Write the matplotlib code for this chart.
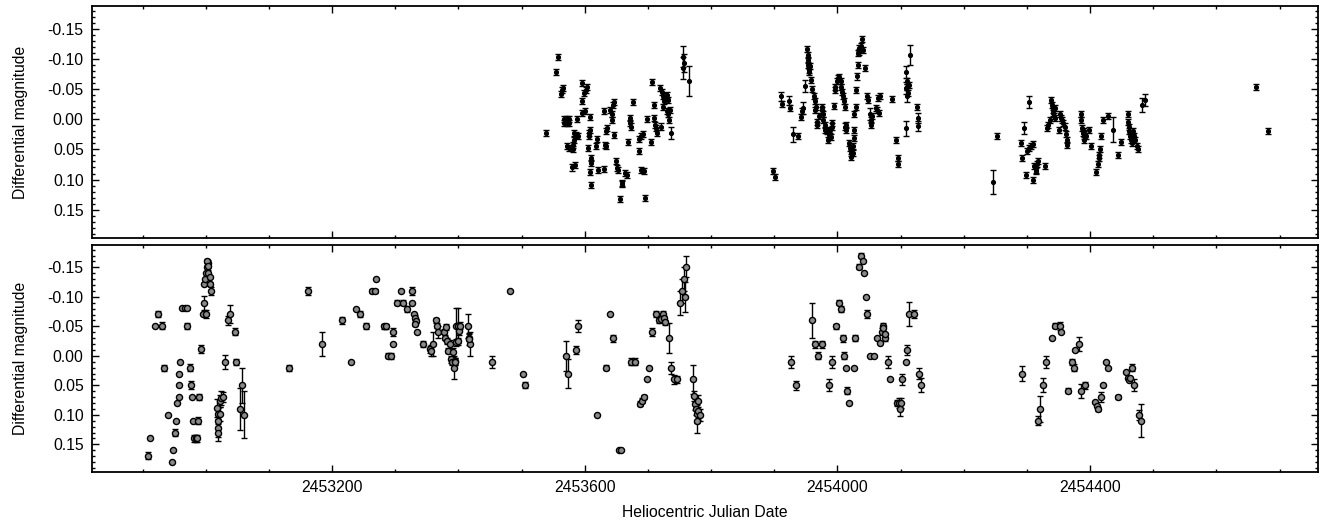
import matplotlib
matplotlib.use("Agg")
import matplotlib.pyplot as plt
from matplotlib.ticker import MultipleLocator, FormatStrFormatter

plt.rcParams["font.family"] = ["Liberation Sans", "DejaVu Sans"]

# ---- top panel: filled dots ----
top_hjd = [
    2453538.5, 2453553.8, 2453557.0, 2453562.3, 2453564.4, 2453566.0, 2453567.0, 2453567.0,
    2453571.2, 2453571.2, 2453575.0, 2453575.0, 2453571.2, 2453575.0, 2453581.8, 2453581.8,
    2453583.4, 2453583.4, 2453587.0, 2453589.7, 2453579.2, 2453584.4, 2453588.1, 2453595.0,
    2453596.0, 2453598.7, 2453601.3, 2453602.9, 2453596.0, 2453599.7, 2453605.5, 2453606.6,
    2453606.6, 2453608.2, 2453608.2, 2453609.7, 2453609.2, 2453608.2, 2453609.7, 2453619.8,
    2453617.6, 2453620.8, 2453630.3, 2453631.4, 2453633.5, 2453630.3, 2453634.5, 2453635.6,
    2453639.8, 2453643.0, 2453643.0, 2453645.0, 2453646.1, 2453646.7, 2453649.3, 2453651.4,
    2453653.0, 2453655.6, 2453659.8, 2453658.3, 2453663.5, 2453666.2, 2453669.3, 2453671.4,
    2453671.4, 2453672.5, 2453676.7, 2453686.2, 2453688.9, 2453692.5, 2453686.7, 2453689.9,
    2453693.6, 2453695.2, 2453699.4, 2453704.7, 2453706.3, 2453709.4, 2453709.4, 2453711.0,
    2453713.6, 2453715.2, 2453720.5, 2453718.9, 2453723.1, 2453724.2, 2453725.2, 2453724.2,
    2453726.8, 2453730.5, 2453732.1, 2453729.5, 2453732.1, 2453734.7, 2453733.7, 2453737.4,
    2453755.8, 2453756.9, 2453755.8, 2453764.8,
    2453898, 2453902, 2453910, 2453913, 2453924, 2453925, 2453930, 2453938, 2453943, 2453944,
    2453945, 2453948, 2453952, 2453953, 2453954, 2453954, 2453955, 2453956, 2453955, 2453959,
    2453960, 2453963, 2453964, 2453966, 2453965, 2453967, 2453968, 2453971, 2453975, 2453976,
    2453978, 2453977, 2453980, 2453981, 2453983, 2453985, 2453987, 2453988, 2453991, 2453992,
    2453990, 2453994, 2453996, 2453997, 2454000, 2454001, 2454003, 2454005, 2454006, 2454008,
    2454009, 2454011, 2454012, 2454012, 2454013, 2454014, 2454019, 2454020, 2454021, 2454022,
    2454024, 2454025, 2454026, 2454026, 2454027, 2454029, 2454030, 2454031, 2454032, 2454033,
    2454034, 2454035, 2454037, 2454039, 2454040, 2454044, 2454047, 2454049, 2454051, 2454053,
    2454054, 2454055, 2454061, 2454062, 2454065, 2454067, 2454066, 2454086, 2454093, 2454096,
    2454096, 2454108, 2454109, 2454110, 2454109, 2454112, 2454111, 2454110, 2454113, 2454115,
    2454126, 2454128, 2454128,
    2454247, 2454253, 2454291, 2454293, 2454295, 2454299, 2454301, 2454303, 2454306, 2454309,
    2454304, 2454310, 2454312, 2454314, 2454316, 2454315, 2454318, 2454329, 2454332, 2454334,
    2454337, 2454339, 2454340, 2454341, 2454342, 2454344, 2454343, 2454345, 2454351, 2454353,
    2454354, 2454356, 2454358, 2454361, 2454362, 2454363, 2454364, 2454386, 2454386, 2454388,
    2454389, 2454390, 2454391, 2454393, 2454390, 2454399, 2454401, 2454409, 2454412, 2454414,
    2454415, 2454416, 2454418, 2454421, 2454428, 2454437, 2454445, 2454449, 2454460, 2454460,
    2454461, 2454462, 2454464, 2454465, 2454467, 2454468, 2454470, 2454472, 2454474, 2454476,
    2454483, 2454487,
    2454662, 2454681,
]
top_mag = [
    0.022, -0.078, -0.103, -0.042, -0.048, -0.052, 0.000, 0.006,
    0.000, 0.006, 0.000, 0.006, 0.045, 0.048, 0.050, 0.042,
    0.034, 0.022, 0.026, 0.028, 0.080, 0.076, 0.000, -0.061,
    -0.031, -0.043, -0.048, -0.053, -0.011, -0.014, 0.048, 0.028,
    0.023, 0.017, -0.004, 0.064, 0.073, 0.088, 0.109, 0.033,
    0.044, 0.084, -0.014, 0.042, 0.044, 0.082, 0.020, 0.015,
    -0.016, -0.008, 0.001, -0.024, -0.028, 0.026, 0.069, 0.081,
    0.084, 0.133, 0.106, 0.108, 0.089, 0.092, 0.038, -0.002,
    0.006, 0.012, -0.029, 0.033, 0.027, 0.024, 0.053, 0.084,
    0.086, 0.130, -0.001, 0.038, -0.062, -0.002, -0.023, 0.009,
    0.015, 0.023, 0.012, -0.052, -0.046, -0.038, -0.030, -0.021,
    -0.035, -0.041, -0.032, -0.013, -0.008, -0.016, 0.001, 0.022,
    -0.104, -0.093, -0.085, -0.063,
    0.086, 0.095, -0.038, -0.026, -0.031, -0.019, 0.025, 0.028, -0.004, -0.013,
    -0.019, -0.056, -0.116, -0.107, -0.099, -0.090, -0.082, -0.088, -0.079, -0.065,
    -0.050, -0.038, -0.030, -0.021, -0.016, 0.004, 0.009, -0.005, -0.021, -0.016,
    -0.008, 0.001, 0.009, 0.017, 0.020, 0.034, 0.026, 0.017, 0.012, 0.006,
    0.030, -0.022, -0.049, -0.053, -0.063, -0.068, -0.070, -0.063, -0.054, -0.046,
    -0.038, -0.030, -0.020, 0.012, 0.017, 0.009, 0.040, 0.048, 0.056, 0.062,
    0.056, 0.045, 0.031, 0.017, -0.008, -0.021, -0.049, -0.071, -0.090, -0.110,
    -0.118, -0.112, -0.121, -0.134, -0.115, -0.085, -0.038, -0.032, -0.008, 0.001,
    0.009, -0.005, -0.019, -0.016, -0.035, -0.038, -0.010, -0.033, 0.034, 0.064,
    0.075, 0.015, -0.079, -0.063, -0.052, -0.043, -0.038, -0.054, -0.057, -0.107,
    -0.021, -0.002, 0.011,
    0.104, 0.028, 0.039, 0.064, 0.015, 0.092, 0.053, 0.048, 0.045, 0.041,
    -0.028, 0.101, 0.078, 0.084, 0.075, 0.086, 0.070, 0.077, 0.015, 0.009,
    0.001, -0.032, -0.024, -0.016, -0.010, -0.018, -0.005, -0.002, 0.017, -0.008,
    -0.002, 0.001, 0.006, 0.012, 0.024, 0.034, 0.042, -0.008, 0.001, 0.015,
    0.023, 0.028, 0.020, 0.028, 0.034, 0.018, 0.044, 0.088, 0.074, 0.064,
    0.059, 0.050, 0.027, 0.002, -0.005, 0.017, 0.059, 0.037, -0.008, 0.004,
    0.013, 0.020, 0.028, 0.034, 0.039, 0.020, 0.028, 0.034, 0.044, 0.050,
    -0.024, -0.032,
    -0.053, 0.019,
]
# most top-panel error bars are about +-0.005; the larger ones are listed by date
top_err_large = {
    2453737.4: 0.010, 2453755.8: 0.018, 2453756.9: 0.015, 2453764.8: 0.025,
    2453910: 0.008, 2453924: 0.008, 2453930: 0.012, 2453945: 0.010, 2453948: 0.010,
    2454051: 0.010, 2454108: 0.012, 2454109: 0.010, 2454111: 0.010, 2454115: 0.017,
    2454128: 0.008, 2454247: 0.020, 2454295: 0.010, 2454304: 0.010, 2454437: 0.020,
    2454483: 0.012, 2454487: 0.010,
}
top_err = [top_err_large.get(t, 0.005) for t in top_hjd]

# ---- bottom panel: grey circles ----
bot_hjd = [
    2452908, 2452911, 2452920, 2452925, 2452930, 2452934, 2452940, 2452946, 2452948, 2452952,
    2452953, 2452955, 2452957, 2452957, 2452958, 2452959, 2452963, 2452967, 2452970, 2452971,
    2452975, 2452977, 2452978, 2452980, 2452981, 2452984, 2452986, 2452988, 2452989, 2452993,
    2452996, 2452997, 2452998, 2452999, 2453001, 2453002, 2453003, 2453002, 2453004, 2453004,
    2453006, 2453007, 2453008, 2453000, 2453018, 2453019, 2453019, 2453020, 2453020, 2453023,
    2453022, 2453024, 2453027, 2453031, 2453035, 2453039, 2453047, 2453048, 2453055, 2453057,
    2453060,
    2453132.5, 2453161.5, 2453184, 2453216, 2453229.5, 2453237.5, 2453245, 2453254, 2453264, 2453268,
    2453269, 2453282, 2453285, 2453288, 2453294, 2453297, 2453296.5, 2453303, 2453312, 2453318,
    2453326, 2453309, 2453327, 2453330, 2453331, 2453333, 2453332, 2453334, 2453343.5, 2453355,
    2453357, 2453360, 2453365, 2453366, 2453368, 2453378, 2453380, 2453379, 2453382.5, 2453386,
    2453384, 2453388, 2453390, 2453392, 2453394, 2453393, 2453395, 2453396, 2453397, 2453400,
    2453401.5, 2453400, 2453402.5, 2453416, 2453417, 2453418, 2453417, 2453454, 2453481,
    2453503, 2453506, 2453571, 2453574, 2453585.5, 2453589, 2453619, 2453633.5, 2453640, 2453645,
    2453654, 2453657, 2453674, 2453679, 2453688, 2453691, 2453694, 2453698, 2453701.5, 2453707,
    2453713, 2453718, 2453721, 2453724, 2453725, 2453727, 2453733, 2453737, 2453741, 2453746,
    2453751, 2453754, 2453757, 2453760, 2453758.5, 2453771, 2453773, 2453774, 2453776, 2453777,
    2453778, 2453780, 2453782, 2453780,
    2453926, 2453935, 2453960, 2453965, 2453975, 2453969, 2453987, 2453992, 2453998, 2454003,
    2454006, 2454009, 2454011, 2454013, 2454016, 2454018, 2454026, 2454028, 2454034, 2454037,
    2454040, 2454042, 2454045, 2454047, 2454052, 2454058, 2454063, 2454067, 2454071, 2454072,
    2454073, 2454076, 2454075, 2454080, 2454084, 2454094, 2454098, 2454101, 2454099, 2454103,
    2454108, 2454111, 2454114, 2454122, 2454129, 2454132,
    2454292, 2454317.5, 2454321, 2454325, 2454331, 2454340, 2454345, 2454352, 2454354, 2454365,
    2454371, 2454374, 2454376.5, 2454382, 2454386, 2454392, 2454408, 2454411, 2454413, 2454418,
    2454421, 2454426, 2454429, 2454444, 2454457, 2454460, 2454461, 2454464, 2454466, 2454470,
    2454477, 2454481,
]
bot_mag = [
    0.169, 0.140, -0.051, -0.071, -0.051, 0.020, 0.100, 0.180, 0.160, 0.130,
    0.110, 0.080, 0.070, 0.050, 0.030, 0.010, -0.081, -0.081, -0.081, -0.051,
    0.020, 0.050, 0.070, 0.110, 0.140, 0.140, 0.140, 0.110, 0.070, -0.011,
    -0.071, -0.090, -0.122, -0.130, -0.141, -0.150, -0.158, -0.161, -0.153, -0.141,
    -0.133, -0.122, -0.110, -0.071, 0.088, 0.099, 0.110, 0.122, 0.130, 0.099,
    0.076, 0.071, 0.070, 0.010, -0.060, -0.071, -0.041, 0.010, 0.090, 0.050,
    0.100,
    0.020, -0.110, -0.020, -0.060, 0.010, -0.080, -0.071, -0.050, -0.110, -0.110,
    -0.130, -0.050, -0.050, 0.000, 0.000, -0.041, -0.020, -0.090, -0.090, -0.080,
    -0.090, -0.110, -0.110, -0.071, -0.065, -0.059, -0.054, -0.040, -0.020, -0.011,
    -0.009, -0.020, -0.060, -0.051, -0.041, -0.041, -0.049, -0.031, -0.025, -0.020,
    -0.009, 0.006, 0.010, -0.006, 0.009, 0.020, 0.010, -0.051, -0.023, -0.051,
    -0.042, -0.025, -0.051, -0.051, -0.031, -0.020, -0.028, 0.010, -0.110,
    0.030, 0.050, 0.000, 0.030, -0.010, -0.051, 0.100, 0.020, -0.071, -0.030,
    0.160, 0.160, 0.010, 0.010, 0.081, 0.076, 0.070, 0.040, 0.020, -0.041,
    -0.071, -0.060, -0.063, -0.071, -0.064, -0.057, -0.030, 0.020, 0.040, 0.040,
    -0.090, -0.110, -0.130, -0.151, -0.100, 0.040, 0.068, 0.082, 0.090, 0.099,
    0.110, 0.093, 0.100, 0.076,
    0.010, 0.050, -0.060, -0.020, -0.020, 0.000, 0.050, 0.010, -0.050, -0.090,
    -0.080, -0.030, 0.000, 0.020, 0.059, 0.080, 0.020, -0.030, -0.151, -0.170,
    -0.160, -0.140, -0.100, -0.071, 0.000, 0.000, -0.030, -0.021, -0.041, -0.051,
    -0.047, -0.030, -0.037, 0.010, 0.040, 0.080, 0.080, 0.080, 0.090, 0.040,
    0.010, -0.010, -0.071, -0.071, 0.030, 0.050,
    0.030, 0.110, 0.090, 0.050, 0.010, -0.030, -0.051, -0.051, -0.040, 0.059,
    0.010, 0.020, -0.010, -0.020, 0.059, 0.050, 0.079, 0.085, 0.090, 0.070,
    0.050, 0.010, 0.020, 0.070, 0.028, 0.037, 0.041, 0.037, 0.020, 0.050,
    0.100, 0.110,
]
bot_err = [
    0.006, 0.000, 0.000, 0.005, 0.006, 0.005, 0.000, 0.000, 0.000, 0.006,
    0.000, 0.000, 0.000, 0.000, 0.000, 0.000, 0.000, 0.000, 0.000, 0.005,
    0.006, 0.007, 0.000, 0.000, 0.006, 0.006, 0.006, 0.006, 0.005, 0.007,
    0.000, 0.012, 0.000, 0.000, 0.000, 0.000, 0.004, 0.004, 0.004, 0.004,
    0.000, 0.004, 0.006, 0.007, 0.015, 0.010, 0.010, 0.015, 0.015, 0.012,
    0.010, 0.012, 0.008, 0.012, 0.008, 0.015, 0.006, 0.005, 0.035, 0.030,
    0.040,
    0.005, 0.007, 0.020, 0.006, 0.000, 0.000, 0.005, 0.005, 0.004, 0.004,
    0.000, 0.004, 0.004, 0.004, 0.005, 0.007, 0.000, 0.004, 0.004, 0.005,
    0.000, 0.000, 0.006, 0.000, 0.005, 0.004, 0.004, 0.000, 0.005, 0.006,
    0.010, 0.020, 0.005, 0.004, 0.010, 0.004, 0.005, 0.004, 0.005, 0.007,
    0.005, 0.006, 0.006, 0.008, 0.006, 0.020, 0.006, 0.030, 0.006, 0.030,
    0.006, 0.006, 0.006, 0.020, 0.006, 0.020, 0.010, 0.010, 0.000,
    0.000, 0.005, 0.025, 0.025, 0.007, 0.010, 0.000, 0.004, 0.000, 0.006,
    0.000, 0.000, 0.006, 0.006, 0.004, 0.004, 0.004, 0.000, 0.000, 0.007,
    0.005, 0.004, 0.004, 0.005, 0.004, 0.004, 0.025, 0.010, 0.008, 0.006,
    0.020, 0.020, 0.020, 0.018, 0.025, 0.025, 0.008, 0.010, 0.010, 0.015,
    0.020, 0.015, 0.010, 0.010,
    0.010, 0.008, 0.030, 0.006, 0.006, 0.006, 0.010, 0.010, 0.004, 0.004,
    0.005, 0.006, 0.006, 0.000, 0.006, 0.000, 0.000, 0.005, 0.004, 0.004,
    0.000, 0.000, 0.000, 0.006, 0.000, 0.000, 0.000, 0.000, 0.006, 0.005,
    0.000, 0.005, 0.000, 0.010, 0.000, 0.005, 0.008, 0.008, 0.012, 0.010,
    0.000, 0.008, 0.020, 0.006, 0.010, 0.012,
    0.012, 0.008, 0.022, 0.012, 0.010, 0.000, 0.004, 0.007, 0.000, 0.004,
    0.005, 0.006, 0.000, 0.012, 0.012, 0.006, 0.000, 0.000, 0.004, 0.008,
    0.000, 0.000, 0.000, 0.004, 0.000, 0.000, 0.000, 0.000, 0.006, 0.010,
    0.008, 0.028,
]

x_range = (2452820, 2454761)
y_range = (0.197, -0.188)
FS = 11.3


def style_axis(ax, show_xlabels):
    ax.set_xlim(*x_range)
    ax.set_ylim(*y_range)
    ax.xaxis.set_major_locator(MultipleLocator(400))
    ax.xaxis.set_minor_locator(MultipleLocator(100))
    ax.xaxis.set_major_formatter(FormatStrFormatter("%d"))
    ax.yaxis.set_major_locator(MultipleLocator(0.05))
    ax.yaxis.set_minor_locator(MultipleLocator(0.01))
    ax.yaxis.set_major_formatter(FormatStrFormatter("%.2f"))
    ax.tick_params(which="both", direction="in", top=True, right=True,
                   labelsize=FS, width=1.0)
    ax.tick_params(which="major", length=5)
    ax.tick_params(which="minor", length=2.5)
    ax.tick_params(axis="y", pad=6)
    ax.tick_params(axis="x", pad=6, labelbottom=show_xlabels)
    for s in ax.spines.values():
        s.set_linewidth(1.3)
    ax.set_ylabel("Differential magnitude", fontsize=FS, labelpad=14)


fig = plt.figure(figsize=(13.28, 5.21), dpi=100)
ax_top = fig.add_axes([0.0693, 0.5432, 0.9232, 0.4453])
ax_bot = fig.add_axes([0.0693, 0.0940, 0.9232, 0.4358])

ax_top.errorbar(top_hjd, top_mag, yerr=top_err, fmt="o", ms=2.7, color="black",
                ecolor="black", elinewidth=1.0, capsize=2, capthick=1.0)
ax_bot.errorbar(bot_hjd, bot_mag, yerr=bot_err, fmt="o", ms=4.4, mfc="#8a8a8a",
                mec="black", mew=1.0, ecolor="black", elinewidth=1.0,
                capsize=2, capthick=1.0)

style_axis(ax_top, False)
style_axis(ax_bot, True)
ax_bot.set_xlabel("Heliocentric Julian Date", fontsize=FS, labelpad=7)

fig.savefig("out.png", dpi=100)
